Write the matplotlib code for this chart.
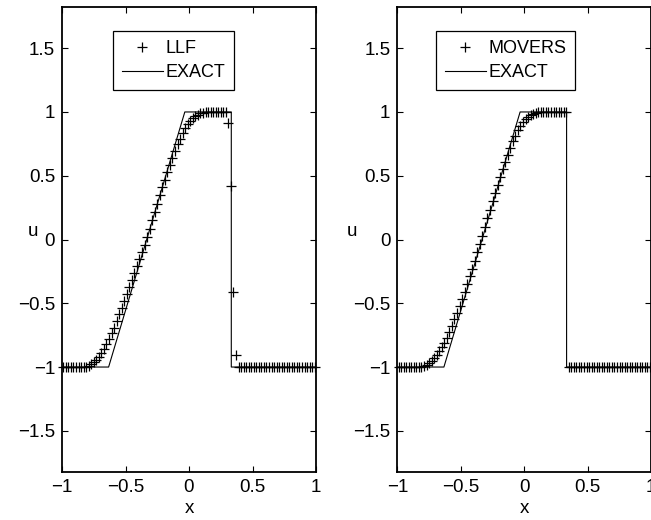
import numpy as np
import matplotlib
matplotlib.use("Agg")
import matplotlib.pyplot as plt

plt.rcParams['font.family'] = ['Liberation Sans', 'DejaVu Sans']

# cell centres
x_cells = [-0.99 + 0.02 * i for i in range(100)]

# LLF numerical solution
u_llf = [
    -1.0, -1.0, -1.0, -1.0, -1.0, -1.0, -1.0, -1.0, -1.0, -0.999,   # -0.99 .. -0.81
    -0.993, -0.978, -0.962, -0.942, -0.918, -0.89, -0.858, -0.82, -0.78, -0.735,  # -0.79 .. -0.61
    -0.69, -0.64, -0.588, -0.535, -0.48, -0.425, -0.37, -0.315, -0.26, -0.205,   # -0.59 .. -0.41
    -0.15, -0.095, -0.04, 0.02, 0.085, 0.15, 0.215, 0.28, 0.345, 0.41,          # -0.39 .. -0.21
    0.47, 0.53, 0.585, 0.64, 0.695, 0.745, 0.79, 0.835, 0.872, 0.905,          # -0.19 .. -0.01
    0.93, 0.952, 0.968, 0.98, 0.988, 0.994, 0.997, 0.999, 1.0, 1.0,            # 0.01 .. 0.19
    1.0, 1.0, 1.0, 1.0, 1.0, 0.916, 0.42, -0.414, -0.906, -1.0,                # 0.21 .. 0.39
    -1.0, -1.0, -1.0, -1.0, -1.0, -1.0, -1.0, -1.0, -1.0, -1.0,
    -1.0, -1.0, -1.0, -1.0, -1.0, -1.0, -1.0, -1.0, -1.0, -1.0,
    -1.0, -1.0, -1.0, -1.0, -1.0, -1.0, -1.0, -1.0, -1.0, -1.0,
]

# MOVERS numerical solution
u_movers = [
    -1.0, -1.0, -1.0, -1.0, -1.0, -1.0, -1.0, -1.0, -1.0, -0.998,   # -0.99 .. -0.81
    -0.993, -0.984, -0.97, -0.952, -0.93, -0.906, -0.878, -0.845, -0.81, -0.77,  # -0.79 .. -0.61
    -0.725, -0.675, -0.625, -0.575, -0.52, -0.465, -0.41, -0.35, -0.29, -0.23,   # -0.59 .. -0.41
    -0.165, -0.10, -0.035, 0.03, 0.095, 0.165, 0.235, 0.30, 0.365, 0.43,        # -0.39 .. -0.21
    0.49, 0.55, 0.61, 0.665, 0.72, 0.77, 0.815, 0.855, 0.89, 0.92,             # -0.19 .. -0.01
    0.945, 0.963, 0.977, 0.987, 0.993, 0.997, 1.0, 1.0, 1.0, 1.0,              # 0.01 .. 0.19
    1.0, 1.0, 1.0, 1.0, 1.0, 1.0, 1.0, -1.0, -1.0, -1.0,                       # 0.21 .. 0.39
    -1.0, -1.0, -1.0, -1.0, -1.0, -1.0, -1.0, -1.0, -1.0, -1.0,
    -1.0, -1.0, -1.0, -1.0, -1.0, -1.0, -1.0, -1.0, -1.0, -1.0,
    -1.0, -1.0, -1.0, -1.0, -1.0, -1.0, -1.0, -1.0, -1.0, -1.0,
]

# exact solution breakpoints
exact_x = [-1.0, -0.633, -0.033, 0.333, 0.333, 1.0]
exact_u = [-1.0, -1.0, 1.0, 1.0, -1.0, -1.0]

xticks = [-1, -0.5, 0, 0.5, 1]
xtick_labels = ['\u22121', '\u22120.5', '0', '0.5', '1']
yticks = [-1.5, -1, -0.5, 0, 0.5, 1, 1.5]
ytick_labels = ['\u22121.5', '\u22121', '\u22120.5', '0', '0.5', '1', '1.5']

W, H = 651, 520
fig = plt.figure(figsize=(W / 100, H / 100), dpi=100)

# (axes left px, data, legend name, legend left px, ylabel x px)
panels = [
    (62, u_llf, 'LLF', 112.7, 33),
    (397.3, u_movers, 'MOVERS', 435.7, 352),
]
for left_px, u_num, name, leg_px, ylab_px in panels:
    ax = fig.add_axes([left_px / W, (H - 472) / H, 254 / W, 465 / H])
    ax.plot(x_cells, u_num, linestyle='none', marker='+', color='black',
            markersize=6.5, markeredgewidth=0.9, label=name, clip_on=False)
    ax.plot(exact_x, exact_u, color='black', linewidth=0.8, label='EXACT')
    ax.set_xlim(-1, 1)
    ax.set_ylim(-1.823, 1.823)
    ax.set_xticks(xticks)
    ax.set_xticklabels(xtick_labels)
    ax.set_yticks(yticks)
    ax.set_yticklabels(ytick_labels)
    ax.tick_params(direction='in', length=4, width=0.8, top=True, right=True,
                   labelsize=13.5, pad=5)
    for s in ax.spines.values():
        s.set_linewidth(1.3)
    ax.set_xlabel('x', fontsize=13.5, labelpad=3)
    ax.set_ylabel('u', fontsize=13.5, rotation=0, va='center', ha='center')
    ax.yaxis.set_label_coords((ylab_px - left_px) / 254, (472 - 232) / 465)
    leg = ax.legend(loc='upper left',
                    bbox_to_anchor=((leg_px - left_px) / 254, (472 - 31) / 465),
                    borderaxespad=0, fontsize=13, handlelength=2.3,
                    handletextpad=0.1, fancybox=False, framealpha=1,
                    edgecolor='black', labelspacing=0.4, borderpad=0.5)
    leg.get_frame().set_linewidth(0.9)

fig.savefig('out.png', dpi=100)
